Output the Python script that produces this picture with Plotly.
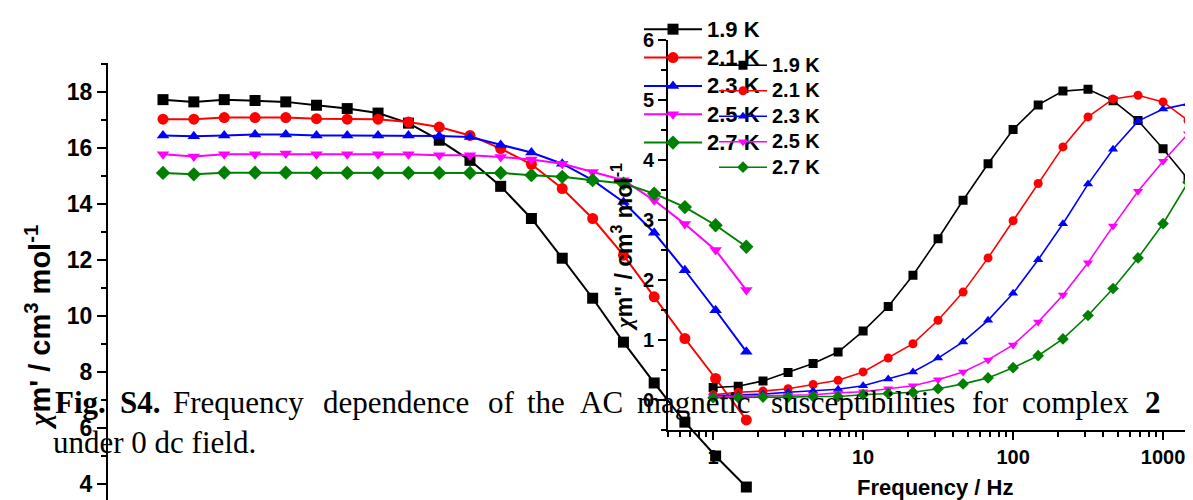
import plotly.graph_objects as go

# ---------------- data ----------------
freq = [1, 1.47, 2.15, 3.16, 4.64, 6.81, 10, 14.7, 21.5, 31.6,
        46.4, 68.1, 100, 147, 215, 316, 464, 681, 1000, 1468]
temps = ["1.9 K", "2.1 K", "2.3 K", "2.5 K", "2.7 K"]

# chi' (left chart)
chi1_19 = [17.74, 17.66, 17.74, 17.71, 17.66, 17.54, 17.42, 17.26, 16.90, 16.29,
           15.57, 14.64, 13.49, 12.07, 10.64, 9.07, 7.61, 6.21, 5.00, 3.89]
chi1_21 = [17.04, 17.04, 17.10, 17.10, 17.10, 17.06, 17.04, 17.04, 16.94, 16.76,
           16.46, 15.99, 15.43, 14.56, 13.49, 12.18, 10.69, 9.20, 7.77, 6.29]
chi1_23 = [16.46, 16.43, 16.46, 16.49, 16.49, 16.46, 16.46, 16.46, 16.46, 16.44,
           16.40, 16.12, 15.85, 15.45, 14.86, 14.08, 12.98, 11.64, 10.21, 8.73]
chi1_25 = [15.79, 15.71, 15.79, 15.79, 15.81, 15.79, 15.79, 15.79, 15.79, 15.75,
           15.75, 15.69, 15.60, 15.45, 15.15, 14.86, 14.14, 13.29, 12.36, 10.93]
chi1_27 = [15.12, 15.07, 15.13, 15.13, 15.13, 15.12, 15.12, 15.12, 15.12, 15.12,
           15.12, 15.12, 15.04, 14.98, 14.86, 14.74, 14.38, 13.90, 13.25, 12.48]

# chi'' (right chart)
chi2_19 = [0.20, 0.22, 0.31, 0.45, 0.60, 0.79, 1.14, 1.55, 2.07, 2.68,
           3.32, 3.93, 4.50, 4.91, 5.14, 5.17, 4.98, 4.65, 4.18, 3.67]
chi2_21 = [0.08, 0.12, 0.14, 0.18, 0.25, 0.32, 0.46, 0.69, 0.93, 1.32,
           1.79, 2.36, 2.98, 3.60, 4.21, 4.71, 5.01, 5.07, 4.96, 4.65]
chi2_23 = [0.06, 0.07, 0.09, 0.12, 0.14, 0.17, 0.23, 0.34, 0.46, 0.69,
           0.96, 1.32, 1.77, 2.33, 2.93, 3.59, 4.17, 4.64, 4.84, 4.93]
chi2_25 = [0.05, 0.05, 0.06, 0.07, 0.08, 0.11, 0.13, 0.18, 0.23, 0.33,
           0.46, 0.66, 0.91, 1.29, 1.74, 2.28, 2.89, 3.47, 3.97, 4.43]
chi2_27 = [0.03, 0.03, 0.04, 0.04, 0.05, 0.05, 0.08, 0.10, 0.12, 0.18,
           0.26, 0.36, 0.53, 0.73, 1.01, 1.40, 1.85, 2.36, 2.93, 3.62]

chi1 = [chi1_19, chi1_21, chi1_23, chi1_25, chi1_27]
chi2 = [chi2_19, chi2_21, chi2_23, chi2_25, chi2_27]

colors = ["#000000", "#FF0000", "#0000FF", "#FF00FF", "#008000"]
symbols = ["square", "circle", "triangle-up", "triangle-down", "diamond"]

SANS = "Liberation Sans"
SERIF = "Liberation Serif"
W, H = 1193, 500
OX, OY = 8, 8   # page offset of the plot div (body margin)

fig = go.Figure()

for i in range(5):
    fig.add_trace(go.Scatter(
        x=freq, y=chi1[i], mode="lines+markers",
        name="<span style='font-size:22px'>%s</span>" % temps[i],
        xaxis="x", yaxis="y", legend="legend",
        line=dict(color=colors[i], width=2),
        marker=dict(symbol=symbols[i], size=11, color=colors[i]),
    ))
for i in range(5):
    fig.add_trace(go.Scatter(
        x=freq, y=chi2[i], mode="lines+markers",
        name="<span style='font-size:20px'>%s</span>" % temps[i],
        xaxis="x2", yaxis="y2", legend="legend2",
        line=dict(color=colors[i], width=1.6),
        marker=dict(symbol=symbols[i], size=9, color=colors[i]),
    ))

def px(x):
    return (x - OX) / W

def py(y):
    return 1 - (y - OY) / H

minor_log = [d * 10 ** e for e in range(-1, 4) for d in range(2, 10)]
minor_log = [v for v in minor_log if 0.5 <= v <= 1700]

fig.update_layout(
    width=W, height=H,
    margin=dict(l=0, r=0, t=0, b=0, autoexpand=False),
    paper_bgcolor="white",
    plot_bgcolor="rgba(0,0,0,0)",
    showlegend=True,
    xaxis=dict(type="log", domain=[px(108), 1.0], range=[-0.2986, 5.635],
               visible=False),
    yaxis=dict(domain=[0.0, py(63)], range=[3.14, 19.05],
               showline=True, linecolor="black", linewidth=2,
               ticks="outside", ticklen=9, tickwidth=2, tickcolor="black",
               tick0=0, dtick=2, showgrid=False, zeroline=False,
               tickfont=dict(family=SANS, size=23, color="black", weight="bold"),
               minor=dict(ticks="outside", ticklen=5, tickwidth=2,
                          tickcolor="black", dtick=1, showgrid=False)),
    xaxis2=dict(type="log", domain=[px(668), 1.0], range=[-0.301, 3.253],
                anchor="y2", showline=True, linecolor="black", linewidth=2,
                ticks="outside", ticklen=8, tickwidth=2, tickcolor="black",
                tickvals=[1, 10, 100, 1000], ticktext=["1", "10", "100", "1000"],
                showgrid=False, zeroline=False,
                tickfont=dict(family=SANS, size=20, color="black", weight="bold"),
                minor=dict(ticks="outside", ticklen=5, tickwidth=1.5,
                           tickcolor="black", tickvals=minor_log, showgrid=False)),
    yaxis2=dict(domain=[py(429.5), py(39.5)], range=[-0.5, 6.0],
                anchor="x2", showline=True, linecolor="black", linewidth=2,
                ticks="outside", ticklen=8, tickwidth=2, tickcolor="black",
                tick0=0, dtick=1, showgrid=False, zeroline=False,
                tickfont=dict(family=SANS, size=20, color="black", weight="bold"),
                minor=dict(ticks="outside", ticklen=5, tickwidth=2,
                           tickcolor="black", dtick=0.5, showgrid=False)),
    legend=dict(x=px(639), y=py(10), xanchor="left", yanchor="top",
                bgcolor="rgba(0,0,0,0)", borderwidth=0,
                font=dict(family=SANS, size=19.5, color="black", weight="bold"),
                tracegroupgap=0, itemwidth=58),
    legend2=dict(x=px(714), y=py(47.5), xanchor="left", yanchor="top",
                 bgcolor="rgba(0,0,0,0)", borderwidth=0,
                 font=dict(family=SANS, size=17.3, color="black", weight="bold"),
                 tracegroupgap=0, itemwidth=48),
)

annotations = []
# axis titles
annotations.append(dict(
    text="<span style='font-family:Liberation Serif'><i>χ</i></span>m' / cm<sup>3</sup> mol<sup>-1</sup>",
    x=px(38), y=py(328), xref="paper", yref="paper", showarrow=False,
    textangle=-90, xanchor="center", yanchor="middle",
    font=dict(family=SANS, size=29, color="black", weight="bold")))
annotations.append(dict(
    text="<span style='font-family:Liberation Serif'><i>χ</i></span>m\" / cm<sup>3</sup> mol<sup>-1</sup>",
    x=px(622), y=py(247), xref="paper", yref="paper", showarrow=False,
    textangle=-90, xanchor="center", yanchor="middle",
    font=dict(family=SANS, size=23, color="black", weight="bold")))
annotations.append(dict(
    text="Frequency / Hz", x=px(935), y=py(487), xref="paper", yref="paper",
    showarrow=False, xanchor="center", yanchor="middle",
    font=dict(family=SANS, size=22, color="black", weight="bold")))

# caption (justified first line)
cap_words = ["<b>Fig.</b>", "<b>S4.</b>", "Frequency", "dependence", "of", "the",
             "AC", "magnetic", "susceptibilities", "for", "complex", "<b>2</b>"]
cap_x = [55, 120, 173, 323, 488, 527, 580, 637, 771, 972, 1022, 1145]
for w, xx in zip(cap_words, cap_x):
    annotations.append(dict(
        text=w, x=px(xx - 2), y=py(402), xref="paper", yref="paper",
        showarrow=False, xanchor="left", yanchor="middle",
        font=dict(family=SERIF, size=31, color="black")))
annotations.append(dict(
    text="under 0 dc field.", x=px(51), y=py(442), xref="paper", yref="paper",
    showarrow=False, xanchor="left", yanchor="middle",
    font=dict(family=SERIF, size=31, color="black")))

fig.update_layout(annotations=annotations)

fig.write_html("out.html")
